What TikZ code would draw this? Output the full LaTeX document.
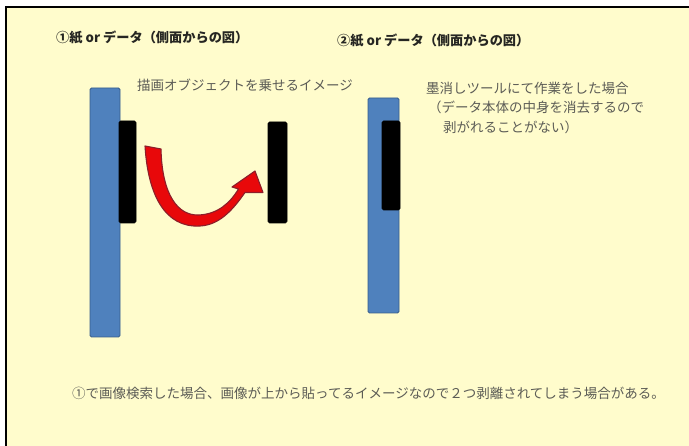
\documentclass[tikz,border=0pt]{standalone}
\usepackage{fontspec}
\setmainfont{Noto Sans CJK JP}
\definecolor{bgyellow}{RGB}{255,252,204}
\definecolor{barblue}{RGB}{79,129,189}
\definecolor{barblueedge}{RGB}{56,93,138}
\definecolor{arrowred}{RGB}{232,8,10}
\definecolor{arrowedge}{RGB}{140,30,42}
\definecolor{textgray}{RGB}{92,92,86}
\definecolor{titledark}{RGB}{38,38,34}
\tikzset{
  paperbar/.style={fill=barblue, draw=barblueedge, line width=0.9pt, rounded corners=1.5pt},
  objbar/.style={fill=black, draw=black, line width=0.6pt, rounded corners=1.5pt},
  titletext/.style={anchor=west, inner sep=0pt, text=titledark, font=\fontsize{13.2}{16}\selectfont\bfseries},
  graytext/.style={anchor=west, inner sep=0pt, text=textgray, font=\fontsize{13.5}{16}\selectfont},
  redarrow/.style={fill=arrowred, draw=arrowedge, line width=1.1pt, line join=round}
}
\begin{document}
\begin{tikzpicture}[x=1pt,y=-1pt]
\useasboundingbox (0,0) rectangle (689,446);
\fill[white] (0,0) rectangle (689,446);
\fill[bgyellow] (5,6) rectangle (689,446);
\draw[line width=2.5pt] (6,446) -- (6,7.2) -- (689,7.2);

% titles
\node[titletext] (t1) at (56,38) {①紙 or データ（側面からの図）};
\node[titletext] (t2) at (337,41) {②紙 or データ（側面からの図）};

% captions
\node[graytext] (c1) at (137,85) {描画オブジェクトを乗せるイメージ};
\node[graytext] (c2a) at (426,88.5) {墨消しツールにて作業をした場合};
\node[graytext] (c2b) at (428,107.5) {（データ本体の中身を消去するので};
\node[graytext] (c2c) at (443,127) {剥がれることがない）};
\node[graytext] (c3) at (72,393) {①で画像検索した場合、画像が上から貼ってるイメージなので２つ剥離されてしまう場合がある。};

% diagram 1
\draw[paperbar] (90,88) rectangle (120,337);
\draw[objbar] (119,121) rectangle (136,223);
\draw[objbar] (268,122) rectangle (287,223);

% curved arrow
\draw[redarrow] (145,146)
  .. controls (148,195) and (165,228) .. (200,226)
  .. controls (222,225) and (236,205) .. (245,192.5)
  -- (263,192.5) -- (255,171) -- (232,187) -- (238.5,189)
  .. controls (230,203) and (218,214) .. (199,215)
  .. controls (178,216) and (162,195) .. (161,149)
  -- cycle;

% diagram 2
\draw[paperbar] (368,98) rectangle (399,313);
\draw[objbar] (382,121) rectangle (400,210);
\end{tikzpicture}
\end{document}
